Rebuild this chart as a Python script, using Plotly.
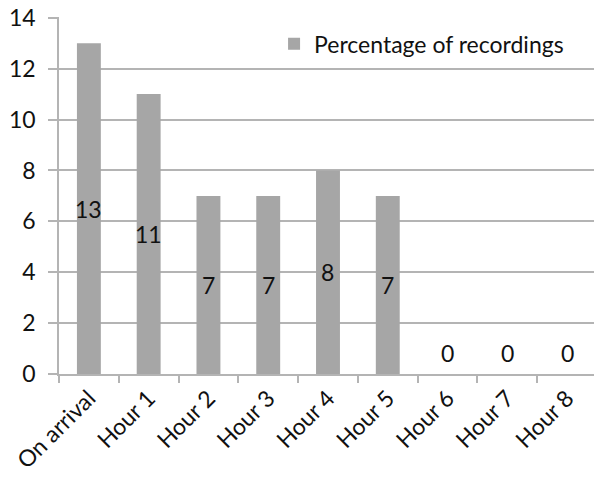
import plotly.graph_objects as go

# Share of recordings at each time point
categories = ["On arrival", "Hour 1", "Hour 2", "Hour 3", "Hour 4",
              "Hour 5", "Hour 6", "Hour 7", "Hour 8"]
percentages = [13, 11, 7, 7, 8, 7, 0, 0, 0]
y_ticks = [0, 2, 4, 6, 8, 10, 12, 14]

FONT = "Lato"
BAR = "#a6a6a6"
GRID = "#b4b4b4"
TXT = "#111111"

fig = go.Figure()
fig.add_trace(go.Bar(
    x=categories,
    y=percentages,
    name="Percentage of recordings",
    marker=dict(color=BAR, line=dict(width=0)),
    width=0.4,
    showlegend=True,
))

# Value labels centred on each bar; zero bars get theirs just above the baseline
for c, v in zip(categories, percentages):
    if v > 0:
        fig.add_annotation(x=c, y=v / 2, text=str(v), showarrow=False,
                           yanchor="middle",
                           font=dict(family=FONT, size=23, color=TXT))
    else:
        fig.add_annotation(x=c, y=v, text=str(v), showarrow=False,
                           yanchor="bottom", yshift=5,
                           font=dict(family=FONT, size=23, color=TXT))

fig.update_layout(
    width=594, height=477,
    margin=dict(l=59, r=0, t=17, b=103),
    paper_bgcolor="white", plot_bgcolor="white",
    font=dict(family=FONT, size=23, color=TXT),
    legend=dict(x=0.402, y=0.985, xanchor="left", yanchor="top",
                bgcolor="rgba(0,0,0,0)", font=dict(size=23, family=FONT),
                itemsizing="constant"),
    xaxis=dict(
        type="category",
        range=[-0.5, 8.45],
        tickson="boundaries",
        ticks="outside", ticklen=7, tickcolor=GRID, tickwidth=1.5,
        showline=True, linecolor=GRID, linewidth=1.5,
        showgrid=False,
        tickangle=-45,
        tickfont=dict(family=FONT, size=23),
    ),
    yaxis=dict(
        range=[0, 14.03],
        tickvals=y_ticks,
        ticks="outside", ticklen=9, tickcolor=GRID, tickwidth=1.5,
        showline=True, linecolor=GRID, linewidth=1.5,
        showgrid=True, gridcolor=GRID, gridwidth=1.5,
        zeroline=False,
        ticklabelstandoff=8,
        tickfont=dict(family=FONT, size=23),
    ),
)

fig.write_html("out.html")
